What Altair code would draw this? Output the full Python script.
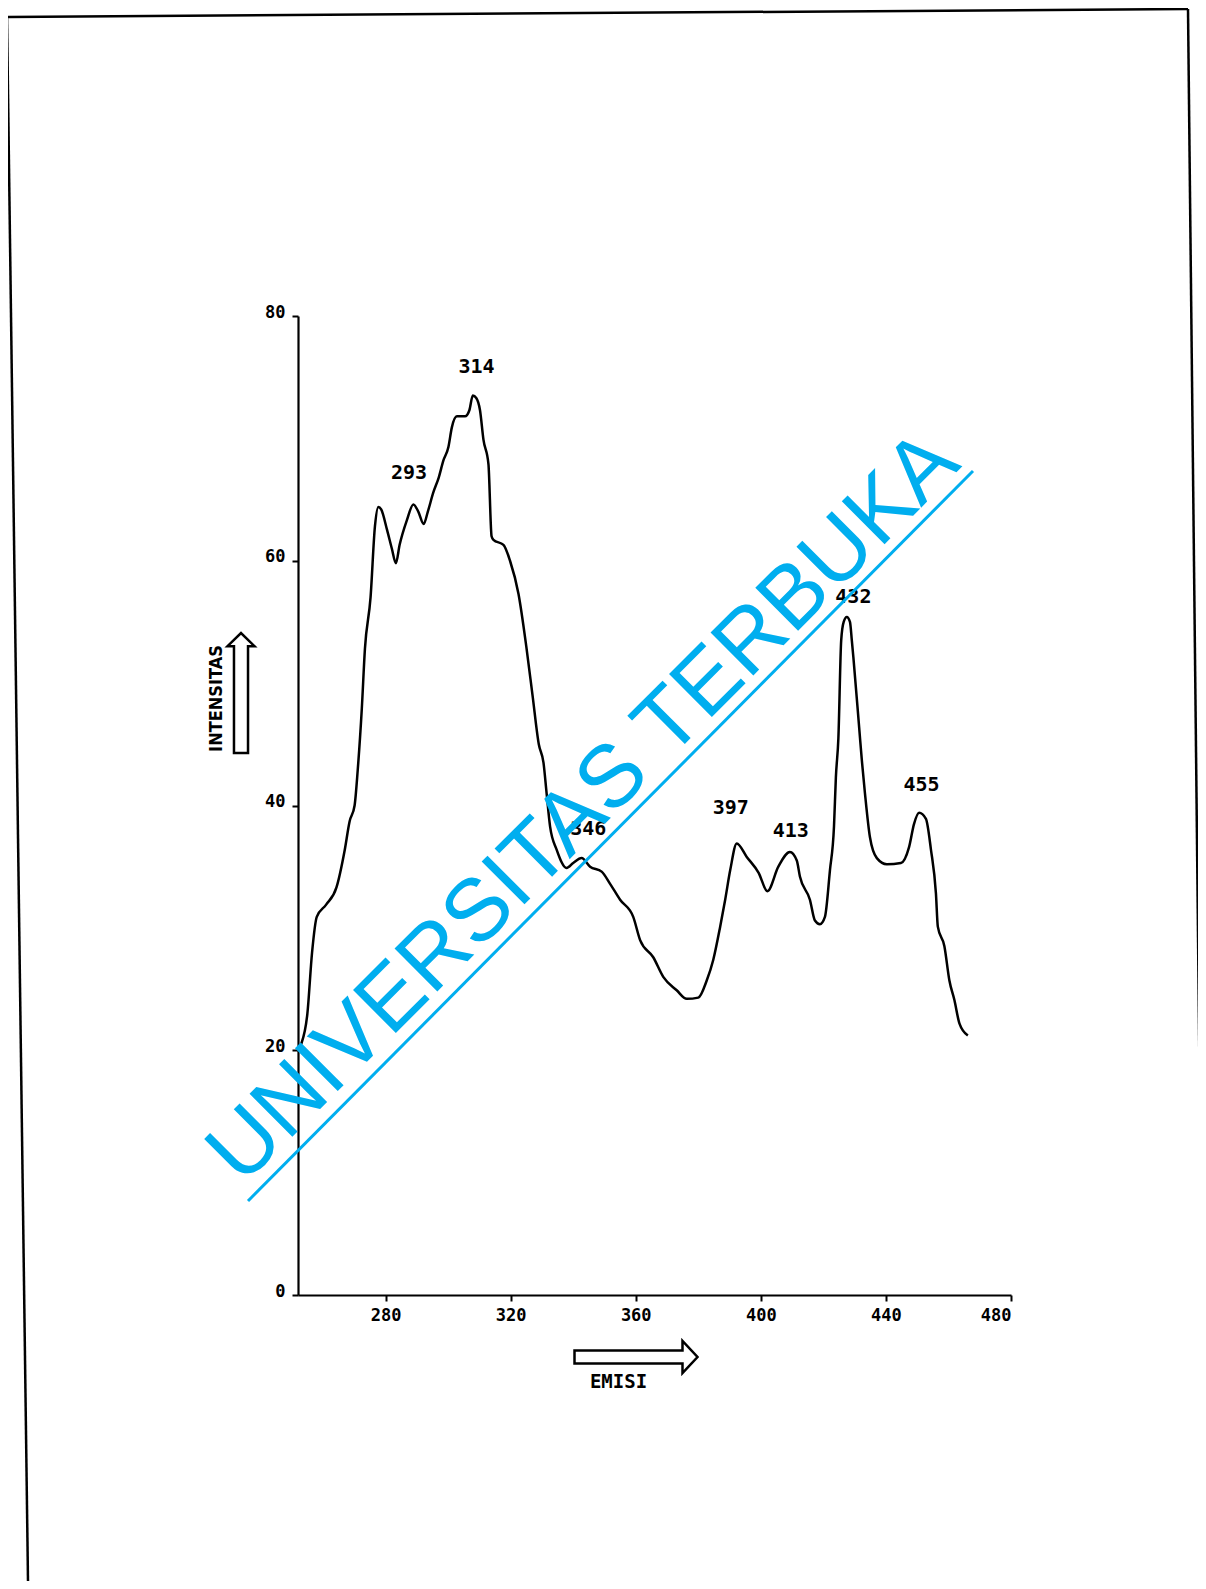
import altair as alt
import pandas as pd

# ---- data ----
wavelength = [252, 253, 255, 256.5, 258, 261, 264.3, 266.9, 268.5, 270.1, 271.1, 272.4, 273.4,
              275.2, 276.6, 277.7, 278.6, 280.5, 282, 283.3, 284.5, 286.8, 288.9, 290.5, 292.2,
              293.5, 295.3, 297, 298.5, 300.1, 301.2, 302.8, 305.4, 306.8, 307.9, 309, 310.2,
              311.3, 312.9, 313.9, 314.5, 317.7, 319.8, 322.5, 325, 327, 329, 330.5, 331.5,
              332.6, 334.7, 337.9, 340, 342.7, 345.4, 349.1, 351.8, 355, 359.2, 361.4, 365.6,
              368.8, 373.1, 376.3, 380, 382.7, 384.8, 387, 388.6, 390.2, 392.3, 395.5, 399.3,
              402.1, 405.6, 409.3, 411.5, 412.5, 415.7, 417.3, 418.9, 420.5, 422.1, 423.4, 424,
              424.8, 425.7, 426.5, 427.5, 428.5, 429.1, 429.6, 431.5, 432.3, 433.3, 434.9, 437.1,
              440.3, 444.8, 447.4, 449, 450.6, 452.8, 454.4, 456, 456.6, 458.7, 460.3, 461.9,
              463.5, 466.2]
intensity = [20.0, 20.5, 23.0, 28.0, 30.9, 31.9, 33.3, 36.3, 38.7, 40.0, 42.9, 47.9, 52.8,
             57.0, 62.8, 64.4, 64.2, 62.5, 61.0, 59.8, 61.3, 63.3, 64.6, 64.0, 63.0,
             64.0, 65.6, 66.8, 68.2, 69.3, 70.9, 71.8, 71.8, 72.3, 73.5, 73.3, 72.3,
             69.9, 67.9, 62.0, 61.7, 61.3, 60.0, 57.3, 53.0, 49.0, 45.0, 43.5, 41.0,
             38.3, 36.4, 34.9, 35.3, 35.7, 35.0, 34.6, 33.6, 32.3, 30.9, 29.0, 27.6,
             26.0, 24.9, 24.2, 24.3, 25.7, 27.4, 30.1, 32.3, 34.7, 36.9, 35.8, 34.5,
             33.0, 35.0, 36.2, 35.5, 34.2, 32.3, 30.6, 30.3, 30.9, 34.7, 38.3, 42.3,
             45.5, 53.5, 55.0, 55.4, 55.0, 53.5, 52.1, 46.2, 43.7, 41.0, 37.4, 35.7,
             35.2, 35.3, 36.6, 38.5, 39.4, 38.9, 36.4, 32.8, 30.1, 28.5, 25.7, 24.1,
             22.2, 21.2]

peak_labels = ["293", "314", "346", "397", "413", "432", "455"]
peak_label_x = [287.5, 309.1, 344.8, 390.4, 409.6, 429.6, 451.4]
peak_label_y = [67.2, 75.8, 38.1, 39.8, 37.9, 57.0, 41.7]

x_ticks = [280, 320, 360, 400, 440, 480]
y_ticks = [0, 20, 40, 60, 80]

x_title = "EMISI"
y_title = "INTENSITAS"
watermark = "UNIVERSITAS TERBUKA"

# ---- tables ----
curve = pd.DataFrame({"x": wavelength, "y": intensity})
labels = pd.DataFrame({"x": peak_label_x, "y": peak_label_y, "t": peak_labels})
one = pd.DataFrame({"k": [0]})

W, H = 713, 979
MONO = "DejaVu Sans Mono"
COND = "'DejaVu Sans Condensed', 'Liberation Sans', sans-serif"

xscale = alt.Scale(domain=[252, 480], nice=False, zero=False)
yscale = alt.Scale(domain=[0, 80], nice=False, zero=True)

xaxis = alt.Axis(values=x_ticks, grid=False, title=x_title, tickSize=6, tickWidth=2,
                 tickColor="black", domainColor="black", domainWidth=2.2,
                 labelFont=MONO, labelFontSize=17, labelFontWeight="bold",
                 labelColor="black", labelPadding=6,
                 titleFont=MONO, titleFontSize=19, titleFontWeight="bold",
                 titleColor="black", titleX=320, titleY=86, titleAlign="center",
                 titleBaseline="middle")
yaxis = alt.Axis(values=y_ticks, grid=False, title=y_title, tickSize=6, tickWidth=2,
                 tickColor="black", domainColor="black", domainWidth=2.2,
                 labelFont=MONO, labelFontSize=17, labelFontWeight="bold",
                 labelColor="black", labelPadding=7, labelOffset=-4,
                 titleFont=COND, titleFontSize=18,
                 titleFontWeight="bold", titleColor="black", titleAngle=270,
                 titleX=-82, titleY=382, titleAlign="center", titleBaseline="middle")

line = alt.Chart(curve).mark_line(color="black", strokeWidth=2.5, interpolate="monotone").encode(
    x=alt.X("x:Q", scale=xscale, axis=xaxis),
    y=alt.Y("y:Q", scale=yscale, axis=yaxis),
)

peak_text = alt.Chart(labels).mark_text(font=MONO, fontSize=20, fontWeight="bold",
                                        color="black", align="center", baseline="middle").encode(
    x=alt.X("x:Q", scale=xscale, axis=xaxis),
    y=alt.Y("y:Q", scale=yscale, axis=yaxis),
    text="t:N",
)

path_up = "M -0.117 1 L -0.117 -0.78 L -0.225 -0.78 L 0 -1 L 0.225 -0.78 L 0.117 -0.78 L 0.117 1 Z"
path_right = "M -1 -0.106 L 0.756 -0.106 L 0.756 -0.26 L 1 0 L 0.756 0.26 L 0.756 0.106 L -1 0.106 Z"

arrow_up = alt.Chart(one).mark_point(shape=path_up, size=14400, filled=True, fill="white",
                                     stroke="black", strokeWidth=2.5, opacity=1).encode(
    x=alt.value(-57), y=alt.value(377))
arrow_right = alt.Chart(one).mark_point(shape=path_right, size=15129, filled=True, fill="white",
                                        stroke="black", strokeWidth=2.5, opacity=1).encode(
    x=alt.value(338), y=alt.value(1041))

frame_color = "black"
frame_left = alt.Chart(one).mark_rule(color=frame_color, strokeWidth=2.5).encode(
    x=alt.value(-291), y=alt.value(-299), x2=alt.value(-270), y2=alt.value(1265))
frame_top = alt.Chart(one).mark_rule(color=frame_color, strokeWidth=2.5).encode(
    x=alt.value(-291), y=alt.value(-299), x2=alt.value(890), y2=alt.value(-307))
frame_right = alt.Chart(one).mark_rule(color=frame_color, strokeWidth=2.5).encode(
    x=alt.value(890), y=alt.value(-307), x2=alt.value(907), y2=alt.value(1265))

wm_color = "#00aeef"
wm_text = alt.Chart(one).mark_text(text=watermark, font="Liberation Sans", fontSize=88,
                                   color=wm_color, angle=315, align="center",
                                   baseline="middle").encode(
    x=alt.value(286), y=alt.value(492))
wm_line = alt.Chart(one).mark_rule(color=wm_color, strokeWidth=3).encode(
    x=alt.value(-50), y=alt.value(885), x2=alt.value(675), y2=alt.value(155))

chart = alt.layer(
    line, peak_text,
    frame_left, frame_top, frame_right,
    arrow_up, arrow_right, wm_text, wm_line
).properties(
    width=W, height=H,
    autosize=alt.AutoSizeParams(type="none"),
    padding={"left": 290, "top": 308, "right": 187, "bottom": 286},
    background="white",
).configure_view(stroke=None)

chart.save("out.html", embed_options={"renderer": "svg", "actions": False})
